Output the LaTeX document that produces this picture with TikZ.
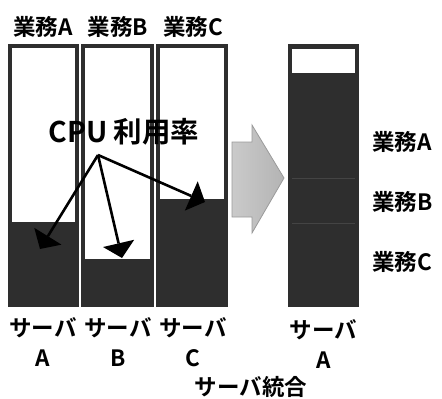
\documentclass[tikz,border=0pt]{standalone}
\usepackage{fontspec}
\setmainfont{Noto Sans CJK JP}[BoldFont={Noto Sans CJK JP Bold}]
\usetikzlibrary{calc}
\definecolor{bar}{HTML}{2E2E2E}
\definecolor{sep}{HTML}{444444}
\definecolor{arrowfill}{HTML}{BDBDBD}
\definecolor{arrowedge}{HTML}{9A9A9A}
\tikzset{
  lbl/.style={inner sep=0pt, font=\fontsize{22.5}{23}\selectfont\bfseries},
  biglbl/.style={inner sep=0pt, font=\fontsize{28.5}{29}\selectfont\bfseries},
  ptr/.style={line width=2.6pt},
  headfill/.style={fill=black},
}
\begin{document}
\begin{tikzpicture}[x=1pt,y=-1pt]
\useasboundingbox (0,0) rectangle (442,399);
% column A
\fill[bar] (7.5,44) rectangle (79,307);
\fill[white] (11.5,48) rectangle (75,222);
% column B
\fill[bar] (81,44) rectangle (154,307);
\fill[white] (85,48) rectangle (150,259);
% column C
\fill[bar] (156,44) rectangle (228,307);
\fill[white] (160,48) rectangle (224,199);
% consolidated server
\fill[bar] (288,44) rectangle (359,307);
\fill[white] (292,48.5) rectangle (355,73);
\draw[sep, line width=0.8pt] (292,178) -- (355,178);
\draw[sep, line width=0.8pt] (292,223) -- (355,223);
% big arrow
\shadedraw[left color=arrowfill!80!white, right color=arrowfill!95!black, draw=arrowedge, line width=0.8pt]
 (232,142) -- (252,142) -- (252,125) -- (284,178) -- (252,233) -- (252,217) -- (232,217) -- cycle;
% labels
\node[lbl] (hA) at (43,27) {業務A};
\node[lbl] (hB) at (118,27) {業務B};
\node[lbl] (hC) at (193,27) {業務C};
\node[biglbl] (cpu) at (124,132) {CPU 利用率};
\node[lbl] (sA) at (43,328) {サーバ};
\node[lbl] (sAl) at (43,358) {A};
\node[lbl] (sB) at (118,328) {サーバ};
\node[lbl] (sBl) at (118,358) {B};
\node[lbl] (sC) at (193,328) {サーバ};
\node[lbl] (sCl) at (193,358) {C};
\node[lbl] (sR) at (323.5,330) {サーバ};
\node[lbl] (sRl) at (323.5,360) {A};
\node[lbl] (merge) at (251,387) {サーバ統合};
\node[lbl, anchor=west] (rA) at (372,142) {業務A};
\node[lbl, anchor=west] (rB) at (372,202) {業務B};
\node[lbl, anchor=west] (rC) at (372,262) {業務C};
% pointers
\coordinate (o) at (98,155);
\coordinate (ta) at (40,249);
\coordinate (tb) at (122,258);
\coordinate (tc) at (205,202);
\coordinate (ba) at ($(ta)!15pt!(o)$);
\coordinate (bb) at ($(tb)!15pt!(o)$);
\coordinate (bc) at ($(tc)!15pt!(o)$);
\draw[ptr] (o) -- (ba);
\draw[ptr] (o) -- (bb);
\draw[ptr] (o) -- (bc);
\fill[headfill] ($(ba)!16pt!90:(ta)$) -- (ta) -- ($(ba)!16pt!-90:(ta)$) -- cycle;
\fill[headfill] ($(bb)!16pt!90:(tb)$) -- (tb) -- ($(bb)!16pt!-90:(tb)$) -- cycle;
\fill[headfill] ($(bc)!16pt!90:(tc)$) -- (tc) -- ($(bc)!16pt!-90:(tc)$) -- cycle;
\end{tikzpicture}
\end{document}
